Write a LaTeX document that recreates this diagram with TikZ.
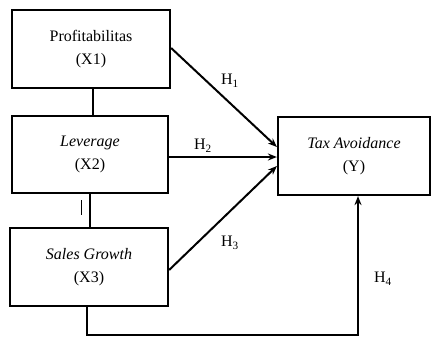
\documentclass[tikz,border=0pt]{standalone}
\usepackage{fontspec}
\setmainfont{Liberation Serif}
\usetikzlibrary{arrows.meta}
\begin{document}
\begin{tikzpicture}[x=1pt,y=-1pt,
  box/.style={draw,line width=2.2pt,rectangle,align=center,inner sep=0pt,
    font=\fontsize{16}{23}\selectfont},
  conn/.style={line width=2pt},
  arr/.style={line width=2pt,-{Stealth[length=9pt,width=7pt]}},
  hlab/.style={font=\fontsize{16}{19}\selectfont,inner sep=0pt}]
\useasboundingbox (0,0) rectangle (433,337);
\node[box,minimum width=158pt,minimum height=78pt] (b1) at (91,49) {Profitabilitas\\(X1)};
\node[box,minimum width=156pt,minimum height=77pt] (b2) at (90,154.5) {\textit{Leverage}\\(X2)};
\node[box,minimum width=158pt,minimum height=78pt] (b3) at (89,267) {\textit{Sales Growth}\\(X3)};
\node[box,minimum width=152pt,minimum height=78pt] (y) at (354,156) {\textit{Tax Avoidance}\\(Y)};
\coordinate (c1) at (87,335);
\coordinate (c2) at (358,335);
\coordinate (s1) at (81,200);
\coordinate (s2) at (81,215);
\draw[conn] ([xshift=2pt]b1.south) -- ([xshift=2pt]b1.south |- b2.north);
\draw[conn] (b2.south) -- (b2.south |- b3.north);
\draw[line width=1pt] (s1) -- (s2);
\draw[arr] ([yshift=1pt]b1.east) -- ([yshift=9pt]y.west);
\draw[arr] ([yshift=-2.5pt]b2.east) -- ([yshift=-1pt]y.west);
\draw[arr] ([yshift=-3pt]b3.east) -- ([yshift=-10pt]y.west);
\draw[arr] ([xshift=-2pt]b3.south) -- (c1) -- (c2) -- (c2 |- y.south);
\node[hlab] (h1) at (230,81) {H\textsubscript{1}};
\node[hlab] (h2) at (203,146) {H\textsubscript{2}};
\node[hlab] (h3) at (230,243) {H\textsubscript{3}};
\node[hlab] (h4) at (383,279) {H\textsubscript{4}};
\end{tikzpicture}
\end{document}
